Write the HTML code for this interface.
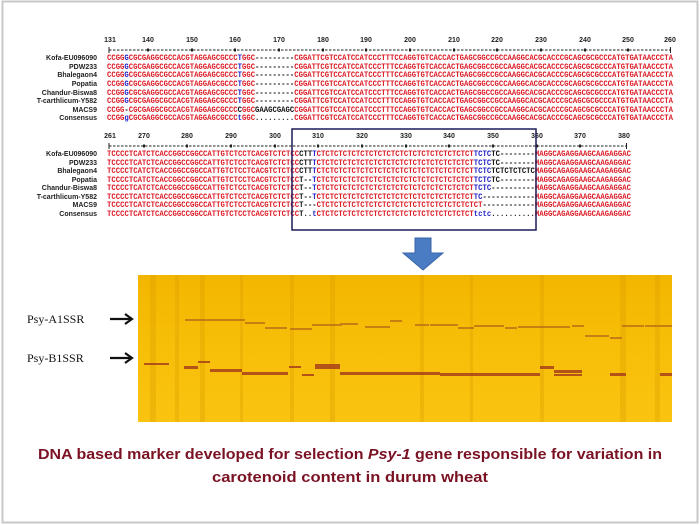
<!DOCTYPE html>
<html><head><meta charset="utf-8"><style>
html,body{margin:0;padding:0;background:#fff}
svg{display:block}
.s{font-family:"Liberation Mono",monospace;font-weight:bold;font-size:8px}
.l{font-family:"Liberation Sans",sans-serif;font-weight:bold;font-size:7px;fill:#222}
.n{font-family:"Liberation Sans",sans-serif;font-weight:bold;font-size:7px;fill:#222}
.r{fill:#dc1a24}.b{fill:#1e1ec8}.k{fill:#111}
</style></head><body>
<svg width="700" height="525" viewBox="0 0 700 525" xmlns="http://www.w3.org/2000/svg">
<rect x="0" y="0" width="700" height="525" fill="#fff"/>
<rect x="2.5" y="1.5" width="695" height="521" fill="none" stroke="#c8c8c8" stroke-width="2"/>

<g class="n" text-anchor="middle">
<text x="110" y="42">131</text><text x="148" y="42">140</text><text x="192" y="42">150</text><text x="235" y="42">160</text><text x="279" y="42">170</text><text x="323" y="42">180</text><text x="366" y="42">190</text><text x="410" y="42">200</text><text x="454" y="42">210</text><text x="497" y="42">220</text><text x="541" y="42">230</text><text x="585" y="42">240</text><text x="628" y="42">250</text><text x="670" y="42">260</text>
</g>
<line x1="109" y1="50" x2="671" y2="50" stroke="#222" stroke-width="0.9" stroke-dasharray="2.5,1.5"/>
<g fill="#222"><rect x="108.5" y="47" width="1" height="6"/><rect x="670" y="47" width="1" height="6"/>
<rect x="147" y="48.5" width="2" height="3"/><rect x="191" y="48.5" width="2" height="3"/><rect x="234" y="48.5" width="2" height="3"/><rect x="278" y="48.5" width="2" height="3"/><rect x="322" y="48.5" width="2" height="3"/><rect x="365" y="48.5" width="2" height="3"/><rect x="409" y="48.5" width="2" height="3"/><rect x="453" y="48.5" width="2" height="3"/><rect x="496" y="48.5" width="2" height="3"/><rect x="540" y="48.5" width="2" height="3"/><rect x="584" y="48.5" width="2" height="3"/><rect x="627" y="48.5" width="2" height="3"/></g>

<g class="l" text-anchor="end">
<text x="97" y="60">Kofa-EU096090</text><text x="97" y="69">PDW233</text><text x="97" y="77">Bhalegaon4</text><text x="97" y="86">Popatia</text><text x="97" y="95">Chandur-Biswa8</text><text x="97" y="103">T-carthlicum-Y582</text><text x="97" y="112">MACS9</text><text x="97" y="120">Consensus</text>
</g>
<g class="s">
<text x="107" y="60" textLength="566" lengthAdjust="spacingAndGlyphs"><tspan class="r">CCGG</tspan><tspan class="b">G</tspan><tspan class="r">CGCGAGGCGCCACGTAGGAGCGCCC</tspan><tspan class="b">T</tspan><tspan class="r">GGC</tspan><tspan class="k">---------</tspan><tspan class="r">CGGATTCGTCCATCCATCCCTTTCCAGGTGTCACCACTGAGCGGCCGCCAAGGCACGCACCCGCAGCGCGCCCATGTGATAACCCTA</tspan></text>
<text x="107" y="69" textLength="566" lengthAdjust="spacingAndGlyphs"><tspan class="r">CCGG</tspan><tspan class="b">G</tspan><tspan class="r">CGCGAGGCGCCACGTAGGAGCGCCC</tspan><tspan class="b">T</tspan><tspan class="r">GGC</tspan><tspan class="k">---------</tspan><tspan class="r">CGGATTCGTCCATCCATCCCTTTCCAGGTGTCACCACTGAGCGGCCGCCAAGGCACGCACCCGCAGCGCGCCCATGTGATAACCCTA</tspan></text>
<text x="107" y="77" textLength="566" lengthAdjust="spacingAndGlyphs"><tspan class="r">CCGG</tspan><tspan class="b">G</tspan><tspan class="r">CGCGAGGCGCCACGTAGGAGCGCCC</tspan><tspan class="b">T</tspan><tspan class="r">GGC</tspan><tspan class="k">---------</tspan><tspan class="r">CGGATTCGTCCATCCATCCCTTTCCAGGTGTCACCACTGAGCGGCCGCCAAGGCACGCACCCGCAGCGCGCCCATGTGATAACCCTA</tspan></text>
<text x="107" y="86" textLength="566" lengthAdjust="spacingAndGlyphs"><tspan class="r">CCGG</tspan><tspan class="b">G</tspan><tspan class="r">CGCGAGGCGCCACGTAGGAGCGCCC</tspan><tspan class="b">T</tspan><tspan class="r">GGC</tspan><tspan class="k">---------</tspan><tspan class="r">CGGATTCGTCCATCCATCCCTTTCCAGGTGTCACCACTGAGCGGCCGCCAAGGCACGCACCCGCAGCGCGCCCATGTGATAACCCTA</tspan></text>
<text x="107" y="95" textLength="566" lengthAdjust="spacingAndGlyphs"><tspan class="r">CCGG</tspan><tspan class="b">G</tspan><tspan class="r">CGCGAGGCGCCACGTAGGAGCGCCC</tspan><tspan class="b">T</tspan><tspan class="r">GGC</tspan><tspan class="k">---------</tspan><tspan class="r">CGGATTCGTCCATCCATCCCTTTCCAGGTGTCACCACTGAGCGGCCGCCAAGGCACGCACCCGCAGCGCGCCCATGTGATAACCCTA</tspan></text>
<text x="107" y="103" textLength="566" lengthAdjust="spacingAndGlyphs"><tspan class="r">CCGG</tspan><tspan class="b">G</tspan><tspan class="r">CGCGAGGCGCCACGTAGGAGCGCCC</tspan><tspan class="b">T</tspan><tspan class="r">GGC</tspan><tspan class="k">---------</tspan><tspan class="r">CGGATTCGTCCATCCATCCCTTTCCAGGTGTCACCACTGAGCGGCCGCCAAGGCACGCACCCGCAGCGCGCCCATGTGATAACCCTA</tspan></text>
<text x="107" y="112" textLength="566" lengthAdjust="spacingAndGlyphs"><tspan class="r">CCGG</tspan><tspan class="k">-</tspan><tspan class="r">CGCGAGGCGCCACGTAGGAGCGCCC</tspan><tspan class="k">C</tspan><tspan class="r">GGC</tspan><tspan class="k">GAAGCGAGC</tspan><tspan class="r">CGGATTCGTCCATCCATCCCTTTCCAGGTGTCACCACTGAGCGGCCGCCAAGGCACGCACCCGCAGCGCGCCCATGTGATAACCCTA</tspan></text>
<text x="107" y="120" textLength="566" lengthAdjust="spacingAndGlyphs"><tspan class="r">CCGG</tspan><tspan class="b">g</tspan><tspan class="r">CGCGAGGCGCCACGTAGGAGCGCCC</tspan><tspan class="b">t</tspan><tspan class="r">GGC</tspan><tspan class="k">.........</tspan><tspan class="r">CGGATTCGTCCATCCATCCCTTTCCAGGTGTCACCACTGAGCGGCCGCCAAGGCACGCACCCGCAGCGCGCCCATGTGATAACCCTA</tspan></text>
</g>

<g class="n" text-anchor="middle">
<text x="110" y="138">261</text><text x="144" y="138">270</text><text x="187" y="138">280</text><text x="231" y="138">290</text><text x="275" y="138">300</text><text x="318" y="138">310</text><text x="362" y="138">320</text><text x="406" y="138">330</text><text x="449" y="138">340</text><text x="493" y="138">350</text><text x="537" y="138">360</text><text x="580" y="138">370</text><text x="624" y="138">380</text>
</g>
<line x1="109" y1="146" x2="627" y2="146" stroke="#222" stroke-width="0.9" stroke-dasharray="2.5,1.5"/>
<g fill="#222"><rect x="108.5" y="143" width="1" height="6"/><rect x="626" y="143" width="1" height="6"/>
<rect x="143" y="144.5" width="2" height="3"/><rect x="186" y="144.5" width="2" height="3"/><rect x="230" y="144.5" width="2" height="3"/><rect x="274" y="144.5" width="2" height="3"/><rect x="317" y="144.5" width="2" height="3"/><rect x="361" y="144.5" width="2" height="3"/><rect x="405" y="144.5" width="2" height="3"/><rect x="448" y="144.5" width="2" height="3"/><rect x="492" y="144.5" width="2" height="3"/><rect x="536" y="144.5" width="2" height="3"/><rect x="579" y="144.5" width="2" height="3"/></g>

<g class="l" text-anchor="end">
<text x="97" y="156">Kofa-EU096090</text><text x="97" y="165">PDW233</text><text x="97" y="173">Bhalegaon4</text><text x="97" y="182">Popatia</text><text x="97" y="190">Chandur-Biswa8</text><text x="97" y="199">T-carthlicum-Y582</text><text x="97" y="207">MACS9</text><text x="97" y="216">Consensus</text>
</g>
<g class="s">
<text x="107" y="156" textLength="524" lengthAdjust="spacingAndGlyphs"><tspan class="r">TCCCCTCATCTCACCGGCCGGCCATTGTCTCCTCACGTCTCTCC</tspan><tspan class="k">CTT</tspan><tspan class="b">T</tspan><tspan class="r">CTCTCTCTCTCTCTCTCTCTCTCTCTCTCTCTCTCT</tspan><tspan class="b">TCTC</tspan><tspan class="k">TC--------</tspan><tspan class="r">MAGGCAGAGGAAGCAAGAGGAC</tspan></text>
<text x="107" y="165" textLength="524" lengthAdjust="spacingAndGlyphs"><tspan class="r">TCCCCTCATCTCACCGGCCGGCCATTGTCTCCTCACGTCTCTCC</tspan><tspan class="k">CTT</tspan><tspan class="b">T</tspan><tspan class="r">CTCTCTCTCTCTCTCTCTCTCTCTCTCTCTCTCTCT</tspan><tspan class="b">TCTC</tspan><tspan class="k">TC--------</tspan><tspan class="r">MAGGCAGAGGAAGCAAGAGGAC</tspan></text>
<text x="107" y="173" textLength="524" lengthAdjust="spacingAndGlyphs"><tspan class="r">TCCCCTCATCTCACCGGCCGGCCATTGTCTCCTCACGTCTCTCC</tspan><tspan class="k">CTT</tspan><tspan class="b">T</tspan><tspan class="r">CTCTCTCTCTCTCTCTCTCTCTCTCTCTCTCTCTCT</tspan><tspan class="b">TCTC</tspan><tspan class="k">TCTCTCTCTC</tspan><tspan class="r">MAGGCAGAGGAAGCAAGAGGAC</tspan></text>
<text x="107" y="182" textLength="524" lengthAdjust="spacingAndGlyphs"><tspan class="r">TCCCCTCATCTCACCGGCCGGCCATTGTCTCCTCACGTCTCTCC</tspan><tspan class="k">T--</tspan><tspan class="b">T</tspan><tspan class="r">CTCTCTCTCTCTCTCTCTCTCTCTCTCTCTCTCTCT</tspan><tspan class="b">TCTC</tspan><tspan class="k">TC--------</tspan><tspan class="r">MAGGCAGAGGAAGCAAGAGGAC</tspan></text>
<text x="107" y="190" textLength="524" lengthAdjust="spacingAndGlyphs"><tspan class="r">TCCCCTCATCTCACCGGCCGGCCATTGTCTCCTCACGTCTCTCC</tspan><tspan class="k">T--</tspan><tspan class="b">T</tspan><tspan class="r">CTCTCTCTCTCTCTCTCTCTCTCTCTCTCTCTCTCT</tspan><tspan class="b">TCTC</tspan><tspan class="k">----------</tspan><tspan class="r">MAGGCAGAGGAAGCAAGAGGAC</tspan></text>
<text x="107" y="199" textLength="524" lengthAdjust="spacingAndGlyphs"><tspan class="r">TCCCCTCATCTCACCGGCCGGCCATTGTCTCCTCACGTCTCTCC</tspan><tspan class="k">T--</tspan><tspan class="b">T</tspan><tspan class="r">CTCTCTCTCTCTCTCTCTCTCTCTCTCTCTCTCTCT</tspan><tspan class="b">TC</tspan><tspan class="k">------------</tspan><tspan class="r">MAGGCAGAGGAAGCAAGAGGAC</tspan></text>
<text x="107" y="207" textLength="524" lengthAdjust="spacingAndGlyphs"><tspan class="r">TCCCCTCATCTCACCGGCCGGCCATTGTCTCCTCACGTCTCTCC</tspan><tspan class="k">T---</tspan><tspan class="r">CTCTCTCTCTCTCTCTCTCTCTCTCTCTCTCTCTCTCT</tspan><tspan class="k">------------</tspan><tspan class="r">MAGGCAGAGGAAGCAAGAGGAC</tspan></text>
<text x="107" y="216" textLength="524" lengthAdjust="spacingAndGlyphs"><tspan class="r">TCCCCTCATCTCACCGGCCGGCCATTGTCTCCTCACGTCTCTCC</tspan><tspan class="k">T..</tspan><tspan class="b">t</tspan><tspan class="r">CTCTCTCTCTCTCTCTCTCTCTCTCTCTCTCTCTCT</tspan><tspan class="b">tctc</tspan><tspan class="k">..........</tspan><tspan class="r">MAGGCAGAGGAAGCAAGAGGAC</tspan></text>
</g>
<rect x="292" y="129" width="244" height="101" fill="none" stroke="#1c1c5a" stroke-width="1.5"/>

<polygon points="415,238 431,238 431,253 443,253 423,270 403,253 415,253" fill="#4a7cc4" stroke="#3a64a8" stroke-width="1"/>

<defs>
<linearGradient id="gv" x1="0" y1="0" x2="0" y2="1">
<stop offset="0" stop-color="#f3b600"/><stop offset="0.5" stop-color="#f7bf08"/><stop offset="1" stop-color="#f9c310"/>
</linearGradient>
</defs>
<rect x="138" y="275" width="534" height="147" fill="url(#gv)"/>
<g fill="#d89a00" opacity="0.3">
<rect x="150" y="275" width="6" height="147"/><rect x="175" y="275" width="4" height="147"/><rect x="200" y="275" width="5" height="147"/><rect x="240" y="275" width="3" height="147"/><rect x="290" y="275" width="4" height="147"/><rect x="330" y="275" width="5" height="147"/><rect x="420" y="275" width="4" height="147"/><rect x="470" y="275" width="3" height="147"/><rect x="540" y="275" width="4" height="147"/><rect x="620" y="275" width="6" height="147"/><rect x="655" y="275" width="5" height="147"/>
</g>
<g fill="#b86a18" opacity="0.75">
<rect x="185" y="319" width="60" height="2"/><rect x="245" y="322" width="20" height="2"/><rect x="265" y="327" width="22" height="2"/><rect x="290" y="328" width="22" height="2"/><rect x="312" y="324" width="30" height="2"/><rect x="340" y="323" width="18" height="2"/><rect x="365" y="326" width="25" height="2"/><rect x="390" y="320" width="12" height="2"/><rect x="415" y="324" width="14" height="2"/><rect x="430" y="324" width="28" height="2"/><rect x="458" y="327" width="16" height="2"/><rect x="474" y="325" width="30" height="2"/><rect x="505" y="327" width="12" height="2"/><rect x="518" y="326" width="52" height="2"/><rect x="572" y="325" width="12" height="2"/><rect x="585" y="335" width="24" height="2"/><rect x="610" y="337" width="12" height="2"/><rect x="622" y="325" width="22" height="2"/><rect x="645" y="325" width="27" height="2"/>
</g>
<g fill="#a8401a" opacity="0.85">
<rect x="144" y="363" width="25" height="2"/><rect x="184" y="366" width="14" height="3"/><rect x="198" y="361" width="12" height="2"/><rect x="210" y="369" width="32" height="3"/><rect x="242" y="372" width="46" height="3"/><rect x="289" y="366" width="12" height="2"/><rect x="302" y="374" width="12" height="2"/><rect x="315" y="364" width="25" height="5"/><rect x="340" y="372" width="40" height="3"/><rect x="380" y="372" width="60" height="3"/><rect x="440" y="373" width="60" height="3"/><rect x="500" y="373" width="40" height="3"/><rect x="540" y="366" width="14" height="3"/><rect x="554" y="370" width="28" height="3"/><rect x="554" y="374" width="28" height="2"/><rect x="610" y="373" width="16" height="3"/><rect x="660" y="373" width="12" height="3"/>
</g>

<g font-family="Liberation Serif,serif" font-size="12" fill="#111">
<text x="27" y="323">Psy-A1SSR</text><text x="27" y="362">Psy-B1SSR</text>
</g>
<g stroke="#111" stroke-width="2.2" fill="none">
<line x1="110" y1="319" x2="131" y2="319"/><polyline points="125,314 132,319 125,324"/>
<line x1="110" y1="358" x2="131" y2="358"/><polyline points="125,353 132,358 125,363"/>
</g>

<g font-family="Liberation Sans,sans-serif" font-weight="bold" font-size="15" fill="#7a1224" text-anchor="middle">
<text x="350" y="459" textLength="624" lengthAdjust="spacingAndGlyphs">DNA based marker developed for selection <tspan font-style="italic">Psy-1</tspan> gene responsible for variation in</text>
<text x="350" y="482" textLength="276" lengthAdjust="spacingAndGlyphs">carotenoid content in durum wheat</text>
</g>
</svg>
</body></html>
